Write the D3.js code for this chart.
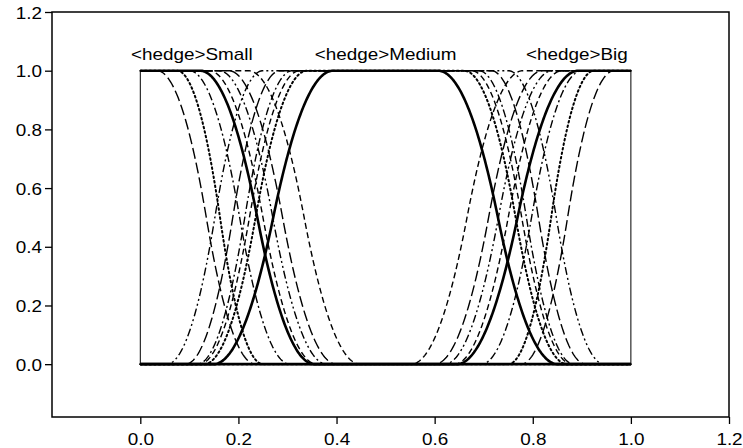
<!DOCTYPE html>
<html>
<head>
<meta charset="utf-8">
<script src="https://cdn.jsdelivr.net/npm/d3@7"></script>
<style>
 body { margin: 0; background: #fff; }
 text { font-family: "Liberation Sans", Arial, sans-serif; }
</style>
</head>
<body>
<svg></svg>
<script>
const width = 743;
const height = 448;

// подписи термов и их положение
const termLabels = ["<hedge>Small", "<hedge>Medium", "<hedge>Big"];
const termLabelX = [0.105, 0.5, 0.89];
const termLabelY = 1.035;

// деления осей
const xTicks = [0.0, 0.2, 0.4, 0.6, 0.8, 1.0, 1.2];
const yTicks = [0.0, 0.2, 0.4, 0.6, 0.8, 1.0, 1.2];

// стили линий для модификаторов (первый - базовый терм)
const hedgeStyles = ["thick", "dotted", "dash", "dashdot", "dashdotdot", "longdash", "longdash", "dash"];

// Small: где кривая уходит с 1 и где доходит до 0
const smallStart = [0.122, 0.075, 0.14, 0.10, 0.16, 0.034, 0.18, 0.22];
const smallEnd   = [0.355, 0.25, 0.36, 0.305, 0.38, 0.235, 0.40, 0.448];

// Medium: левый склон (0 -> 1) и правый склон (1 -> 0)
const medRiseStart = [0.149, 0.13, 0.12, 0.116, 0.054, 0.092];
const medRiseEnd   = [0.393, 0.34, 0.325, 0.31, 0.25, 0.285];
const medFallStart = [0.607, 0.66, 0.675, 0.69, 0.75, 0.715];
const medFallEnd   = [0.851, 0.87, 0.88, 0.884, 0.946, 0.908];

// Big: где кривая уходит с 0 и где доходит до 1
const bigStart = [0.645, 0.75, 0.64, 0.695, 0.62, 0.776, 0.6, 0.552];
const bigEnd   = [0.893, 0.925, 0.86, 0.9, 0.84, 0.966, 0.82, 0.78];

let svg = d3.select("svg")
 .attr("width", width)
 .attr("height", height);

const x = d3.scaleLinear().domain([-0.18, 1.2]).range([52, 729]);
const y = d3.scaleLinear().domain([-0.18, 1.2]).range([417, 12]);

// S-функция Заде
function sFunc(v, a, b) {
 if (v <= a) return 0;
 if (v >= b) return 1;
 const m = (a + b) / 2;
 if (v <= m) return 2 * Math.pow((v - a) / (b - a), 2);
 return 1 - 2 * Math.pow((v - b) / (b - a), 2);
}

const xs = d3.range(0, 1.0001, 0.002);
const line = d3.line()
 .x(d => x(d[0]))
 .y(d => y(d[1]));

function styleLine(path, style) {
 const dash = {
  thick: null,
  dotted: "1.6,3",
  dash: "6,3.5",
  dashdot: "8,3,2,3",
  dashdotdot: "8,3,2,3,2,3",
  longdash: "11,4"
 }[style];
 path.attr("fill", "none")
  .attr("stroke", "#000")
  .attr("stroke-width", style == "thick" ? 2.6 : (style == "dotted" ? 2 : 1.4))
  .attr("stroke-dasharray", dash);
 if (style == "dotted") path.attr("stroke-linecap", "round");
}

let curves = svg.append("g");

// тонкие вертикальные линии на краях универсума
curves.append("line")
 .attr("x1", x(0)).attr("x2", x(0))
 .attr("y1", y(0)).attr("y2", y(1))
 .attr("stroke", "#000").attr("stroke-width", 1);
curves.append("line")
 .attr("x1", x(1)).attr("x2", x(1))
 .attr("y1", y(0)).attr("y2", y(1))
 .attr("stroke", "#000").attr("stroke-width", 1);

// рисуем сначала модификаторы, базовые кривые поверх
function drawOrder(n) {
 let idx = d3.range(n);
 return idx.slice(1).concat([0]);
}

drawOrder(smallStart.length).forEach(i => {
 let p = curves.append("path")
  .attr("d", line(xs.map(v => [v, 1 - sFunc(v, smallStart[i], smallEnd[i])])));
 styleLine(p, hedgeStyles[i]);
});

drawOrder(medRiseStart.length).forEach(i => {
 let p = curves.append("path")
  .attr("d", line(xs.map(v => [v, Math.min(sFunc(v, medRiseStart[i], medRiseEnd[i]),
   1 - sFunc(v, medFallStart[i], medFallEnd[i]))])));
 styleLine(p, hedgeStyles[i]);
});

drawOrder(bigStart.length).forEach(i => {
 let p = curves.append("path")
  .attr("d", line(xs.map(v => [v, sFunc(v, bigStart[i], bigEnd[i])])));
 styleLine(p, hedgeStyles[i]);
});

// рамка
svg.append("rect")
 .attr("x", x(-0.18)).attr("y", y(1.2))
 .attr("width", x(1.2) - x(-0.18))
 .attr("height", y(-0.18) - y(1.2))
 .attr("fill", "none")
 .attr("stroke", "#000")
 .attr("stroke-width", 1.5);

// оси
let xAxis = svg.append("g")
 .attr("transform", `translate(0, ${y(-0.18)})`)
 .call(d3.axisBottom(x).tickValues(xTicks).tickFormat(d3.format(".1f")).tickSize(7).tickSizeOuter(0));
let yAxis = svg.append("g")
 .attr("transform", `translate(${x(-0.18)}, 0)`)
 .call(d3.axisLeft(y).tickValues(yTicks).tickFormat(d3.format(".1f")).tickSize(7).tickSizeOuter(0));

[xAxis, yAxis].forEach(g => {
 g.select(".domain").remove();
 g.selectAll(".tick line").attr("stroke", "#000").attr("stroke-width", 1.3);
 g.selectAll(".tick text")
  .attr("fill", "#000")
  .style("font-family", "'Liberation Sans', Arial, sans-serif")
  .style("font-size", "16px");
});

// растягиваем подписи по горизонтали, как на исходной картинке
xAxis.selectAll(".tick text")
 .attr("y", 0)
 .attr("dy", 0)
 .attr("transform", "translate(0, 28) scale(1.18, 1)");
yAxis.selectAll(".tick text")
 .attr("x", 0)
 .attr("dy", 0)
 .attr("transform", "translate(-10, 6) scale(1.18, 1)");

termLabels.forEach((t, i) => {
 svg.append("text")
  .attr("transform", `translate(${x(termLabelX[i])}, ${y(termLabelY)}) scale(1.18, 1)`)
  .attr("text-anchor", "middle")
  .style("font-size", "16px")
  .attr("fill", "#000")
  .text(t);
});
</script>
</body>
</html>
